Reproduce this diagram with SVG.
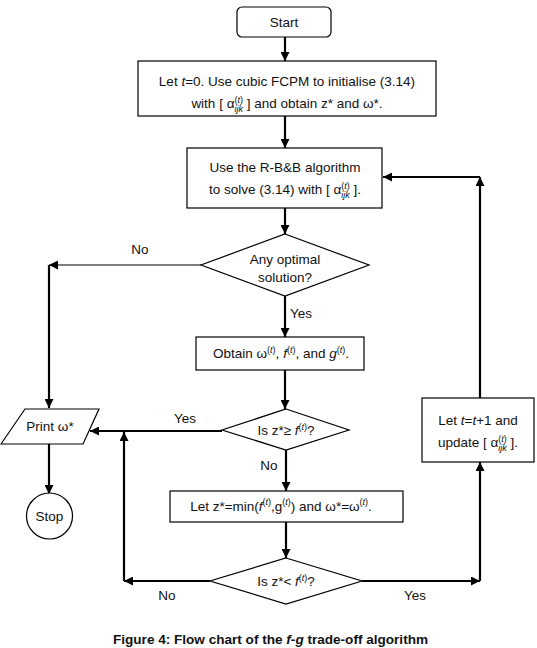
<svg xmlns="http://www.w3.org/2000/svg" width="537" height="648" viewBox="0 0 537 648">
<style>
text{font-family:"Liberation Sans",Arial,sans-serif;font-size:13.5px;fill:#111;text-anchor:middle}
.box{fill:#fff;stroke:#000;stroke-width:1.2}
.conn{fill:none;stroke:#000;stroke-width:2.2}
.thin{stroke-width:1.2}
.sup{font-size:9px}
.it{font-style:italic}
.cap{font-weight:bold;font-size:13px}
</style>
<defs>
<marker id="ah" viewBox="0 0 10 10" refX="10" refY="5" markerWidth="9" markerHeight="9" markerUnits="userSpaceOnUse" orient="auto">
<path d="M0,0 L10,5 L0,10 z" fill="#000"/>
</marker>
</defs>
<g id="connectors" marker-end="url(#ah)">
<path class="conn" d="M285,37 V61"/>
<path class="conn" d="M285,116 V148"/>
<path class="conn" d="M285,208 V234"/>
<path class="conn thin" d="M201,265 H49"/>
<path class="conn" d="M49,265 V408"/>
<path class="conn" d="M285,296 V337"/>
<path class="conn" d="M285,370 V409"/>
<path class="conn" d="M222,431 H90"/>
<path class="conn" d="M286,450 V491"/>
<path class="conn" d="M286,522 V558"/>
<path class="conn" d="M210,581 H124"/>
<path class="conn" d="M124,581 V432"/>
<path class="conn" d="M362,581 H480"/>
<path class="conn" d="M480,581 V462"/>
<path class="conn" d="M480,398 V177"/>
<path class="conn" d="M480,177 H383"/>
<path class="conn" d="M49,444 V494"/>
</g>
<g id="start">
<rect class="box" x="237" y="7" width="94" height="30" rx="5"/>
<text x="284" y="27">Start</text>
</g>
<g id="init">
<rect class="box" x="138" y="61" width="298" height="55"/>
<text x="287" y="86">Let <tspan class="it">t</tspan>=0. Use cubic FCPM to initialise (3.14)</text>
<text x="287" y="108">with [ α<tspan class="sup" dy="-5.5">(<tspan class="it">t</tspan>)</tspan><tspan class="sup it" dx="-8.5" dy="9.5">ijk</tspan><tspan dy="-4"> ] and obtain z* and ω*.</tspan></text>
</g>
<g id="solve">
<rect class="box" x="187" y="148" width="195" height="60"/>
<text x="285" y="172">Use the R-B&amp;B algorithm</text>
<text x="285" y="194">to solve (3.14) with [ α<tspan class="sup" dy="-5.5">(<tspan class="it">t</tspan>)</tspan><tspan class="sup it" dx="-8.5" dy="9.5">ijk</tspan><tspan dy="-4"> ].</tspan></text>
</g>
<g id="optimal">
<polygon class="box" points="285,234 369,265 285,296 201,265"/>
<text x="285" y="264">Any optimal</text>
<text x="285" y="282">solution?</text>
<text x="140" y="254">No</text>
<text x="301" y="318">Yes</text>
</g>
<g id="obtain">
<rect class="box" x="196" y="337" width="168" height="33"/>
<text x="281" y="358">Obtain ω<tspan class="sup" dy="-5.5">(<tspan class="it">t</tspan>)</tspan><tspan dy="5.5">, </tspan><tspan class="it">f</tspan><tspan class="sup" dy="-5.5">(<tspan class="it">t</tspan>)</tspan><tspan dy="5.5">, and </tspan><tspan class="it">g</tspan><tspan class="sup" dy="-5.5">(<tspan class="it">t</tspan>)</tspan><tspan dy="5.5">.</tspan></text>
</g>
<g id="compare1">
<polygon class="box" points="286,409 349,430 286,450 222,430"/>
<text x="286" y="435">Is z*≥ <tspan class="it">f</tspan><tspan class="sup" dy="-5.5">(<tspan class="it">t</tspan>)</tspan><tspan dy="5.5">?</tspan></text>
<text x="185" y="423">Yes</text>
<text x="269" y="470">No</text>
</g>
<g id="print">
<polygon class="box" points="25,409 99,409 83,444 1,444"/>
<text x="50" y="431">Print ω*</text>
</g>
<g id="stop">
<circle class="box" cx="49.5" cy="516" r="23"/>
<text x="49.5" y="521">Stop</text>
</g>
<g id="update">
<rect class="box" x="170" y="491" width="233" height="31"/>
<text x="281" y="510.5">Let z*=min(<tspan class="it">f</tspan><tspan class="sup" dy="-5.5">(<tspan class="it">t</tspan>)</tspan><tspan dy="5.5">,g</tspan><tspan class="sup" dy="-5.5">(<tspan class="it">t</tspan>)</tspan><tspan dy="5.5">) and ω*=ω</tspan><tspan class="sup" dy="-5.5">(<tspan class="it">t</tspan>)</tspan><tspan dy="5.5">.</tspan></text>
</g>
<g id="compare2">
<polygon class="box" points="286,558 362,581 286,604 210,581"/>
<text x="286" y="586">Is z*&lt; <tspan class="it">f</tspan><tspan class="sup" dy="-5.5">(<tspan class="it">t</tspan>)</tspan><tspan dy="5.5">?</tspan></text>
<text x="167" y="600">No</text>
<text x="415" y="600">Yes</text>
</g>
<g id="increment">
<rect class="box" x="422" y="398" width="112" height="64"/>
<text x="478" y="425">Let <tspan class="it">t</tspan>=<tspan class="it">t</tspan>+1 and</text>
<text x="478" y="447">update [ α<tspan class="sup" dy="-5.5">(<tspan class="it">t</tspan>)</tspan><tspan class="sup it" dx="-8.5" dy="9.5">ijk</tspan><tspan dy="-4"> ].</tspan></text>
</g>
<g id="caption">
<text class="cap" x="270.5" y="644" textLength="315" lengthAdjust="spacingAndGlyphs">Figure 4: Flow chart of the <tspan class="it">f</tspan>-<tspan class="it">g</tspan> trade-off algorithm</text>
</g>
</svg>
